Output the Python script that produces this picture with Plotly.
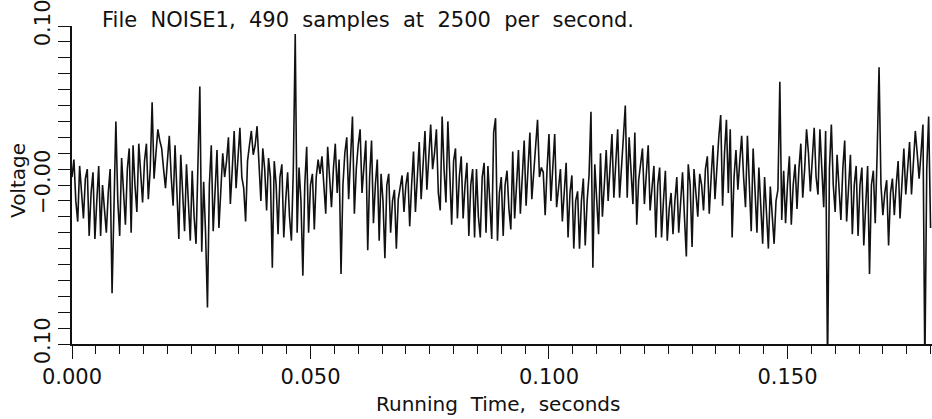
import plotly.graph_objects as go

SAMPLE_RATE = 2500  # samples per second
TITLE = "File  NOISE1,  490  samples  at  2500  per  second."
X_TITLE = "Running  Time,  seconds"
Y_TITLE = "Voltage"

# Voltage readings in millivolts, one per sample (visible part of the record)
voltage_mv = [
    5, 16, -10, -23, 12, -5, -21, 4, 10, -32,
    -5, 8, -34, -10, 12, -32, 0, -15, -30, -5,
    10, -68, -10, 40, -10, -32, 17, -5, -25, 10,
    23, -30, 25, 0, -17, 26, 5, -11, 15, 26,
    -9, 10, 52, 4, 20, 35, 28, 23, 10, -2,
    15, 31, 5, -13, 25, 0, -34,
    19, -5, -29, 13, -10, -35, 9, -20, -37, 20,
    62, -42, 2, -30, -77, 0, 25, -29, 0, 22,
    -27, 0, 20, 5, 15, 30, -12, 10, 34, -2,
    15, 36, 5, -2, -23, 15, 25, 34, 19, 25,
    37, 10, -10, 23, 10, -16, 17, 5, -52, 15,
    0, -31, 5, 13, -33,
    -10, 8, -20, -35, 10, 95, -30, 11, -10, -57,
    0, 24, -30, 0, 7, -28, 5, 16, 7, 18,
    0, -18, 24, 5, -14, 10, 26, -5, 16, -56,
    0, 20, 30, -9, 20, 43, -18, 10, 25, 35,
    -5, 15, 28, -41, 5, 28, -24, 0, 16, -35,
    7, -10, -46, 0, 7,
    -30, -10, -3, -40, -9, 0, 6, -17, 0, 8,
    -26, 0, 21, -17, 5, 27, -9, 15, 34, -3,
    20, 38, 10, 20, 35, -5, -16, 43, 10, -11,
    40, 5, -25, 15, 23, -21, 5, 18, -21, 0,
    14, -32, 0, 10, -33, 10, -20, -33, 5, 14,
    -30, 12, -15, -34, 33,
    42, -35, -5, 5, -32, 0, 9, -15, -28, 21,
    -21, 0, 22, -18, 5, 28, -13, 10, 33, -9,
    10, 25, 41, 5, 11, 8, -19, 10, 32, -10,
    15, 32, -14, 0, 10, -23, 0, 14, -33, -5,
    6, -40, -10, -4, -40, -10, 4, -38, -10, 6,
    46, -52, 13, -10, -31,
    20, -20, 0, 22, -10, 10, 32, -8, 15, 35,
    -8, 15, 30, 50, -8, 30, 5, -12, 33, -25,
    3, 15, 23, -12, 10, 25, -16, 0, 12, -33,
    0, 11, -33, -10, 9, -35, -15, -5, -31, -10,
    5, -30, -10, 8, -20, -45, 13, 0, -39, 10,
    -5, -20, 7, 0, -16,
    10, 18, -18, 5, 25, -9, 15, 30, 44, -13,
    20, 41, -5, 35, -33, 5, 22, -3, 15, 31,
    5, -14, 31, 0, -29, 23, 0, -30, 11, -10,
    -37, 5, -15, -40, -1, -20, -37, -10, -3, 65,
    -22, 9, -24, 0, 18, -25, 0, 13, -15, 10,
    26, -8, 10, 35, 20, -4, 15, 36, 5, -6,
    35, 10, -14, 34, -115, 10, 38, 0, -17, 19,
    0, -22, 10, 28, -23, 0, 19, -31, 0, 12,
    -32, 0, 11, -38, -10, 12, -56, 0, 9, -24,
    20, 74, 0, -19, -5, 3, -38, -5, 4, -19,
    0, 15, -21, 5, 23, -6, 10, 27, -6, 15,
    34, 20, 4, 20, 38, -115, 10, 43, -27,
]

times = [i / SAMPLE_RATE for i in range(len(voltage_mv))]
voltage = [v / 1000.0 for v in voltage_mv]

X_RANGE = [0.0, 0.1803]
Y_RANGE = [-0.10, 0.10]
Y_TICKVALS = [-0.10, 0.0, 0.10]
Y_TICKTEXT = ["0.10", "\u22120.00", "0.10"]

FONT = "DejaVu Sans"
INK = "#111111"

fig = go.Figure()
fig.add_trace(go.Scatter(
    x=times, y=voltage, mode="lines",
    line=dict(color=INK, width=1.6),
    hoverinfo="skip", showlegend=False,
))

W, H = 932, 419
L, R, T, B = 72, 0, 26, 75
pw, ph = W - L - R, H - T - B

fig.update_layout(
    width=W, height=H,
    margin=dict(l=L, r=R, t=T, b=B, pad=0),
    paper_bgcolor="white", plot_bgcolor="white",
    font=dict(family=FONT, color=INK, size=19),
    xaxis=dict(
        range=X_RANGE, tickmode="linear", tick0=0, dtick=0.05,
        tickformat=".3f", showgrid=False, zeroline=False,
        showline=True, linecolor=INK, linewidth=1.6,
        ticks="outside", ticklen=13, tickwidth=1.4, tickcolor=INK,
        tickfont=dict(size=21, family=FONT), ticklabeloverflow="allow",
        minor=dict(tickmode="linear", tick0=0, dtick=0.005, ticks="outside",
                   ticklen=8, tickwidth=1.3, tickcolor=INK, showgrid=False),
    ),
    yaxis=dict(
        range=Y_RANGE, tickmode="array", tickvals=Y_TICKVALS, ticktext=Y_TICKTEXT,
        tickangle=-90, showgrid=False, zeroline=False,
        showline=True, linecolor=INK, linewidth=1.6,
        ticks="outside", ticklen=12, tickwidth=1.4, tickcolor=INK,
        tickfont=dict(size=21, family=FONT), ticklabeloverflow="allow",
        minor=dict(tickmode="linear", tick0=0, dtick=0.01, ticks="outside",
                   ticklen=12, tickwidth=1.3, tickcolor=INK, showgrid=False),
    ),
    annotations=[
        dict(text=TITLE, xref="paper", yref="paper",
             x=(100 - L) / pw, y=1 + (T - 20) / ph, xanchor="left", yanchor="middle",
             showarrow=False, font=dict(size=21, family=FONT)),
        dict(text=Y_TITLE, xref="paper", yref="paper",
             x=(18 - L) / pw, y=(H - B - 180) / ph, xanchor="center", yanchor="middle",
             textangle=-90, showarrow=False, font=dict(size=20, family=FONT)),
        dict(text=X_TITLE, xref="paper", yref="paper",
             x=(498 - L) / pw, y=-(404 - (H - B)) / ph, xanchor="center", yanchor="middle",
             showarrow=False, font=dict(size=20, family=FONT)),
    ],
)

fig.write_html("out.html")
